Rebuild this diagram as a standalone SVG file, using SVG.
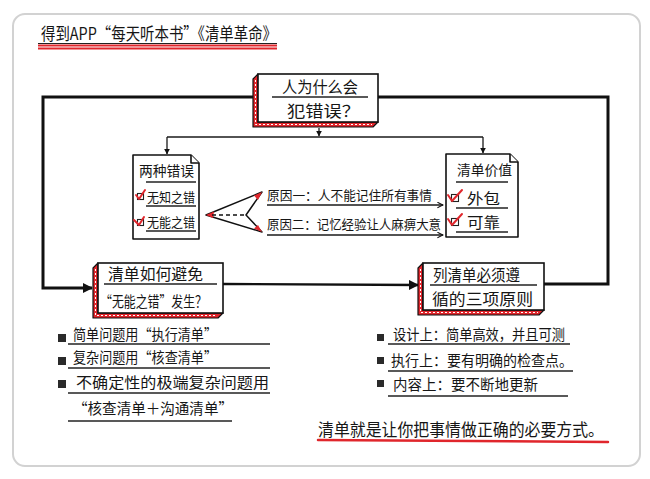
<svg xmlns="http://www.w3.org/2000/svg" width="650" height="479" viewBox="0 0 650 479">
<defs>
<style>
.t{font-family:"Noto Sans CJK SC","Noto Sans",sans-serif;fill:#161616;}
.ln{stroke:#1a1a1a;stroke-width:1.3;fill:none;}
.thick{stroke:#111;stroke-width:3;fill:none;}
.mid{stroke:#111;stroke-width:2.4;fill:none;}
.face{fill:#fff;stroke:#111;stroke-width:1.6;}
.side{fill:#e0262c;stroke:#111;stroke-width:1.2;stroke-linejoin:round;}
.hatch{stroke:#fff;stroke-width:1;stroke-dasharray:2 2;fill:none;}
.doc{fill:#fff;stroke:#111;stroke-width:1.6;stroke-linejoin:round;}
.ul{stroke:#222;stroke-width:1.4;fill:none;}
.box{fill:#fff;stroke:#222;stroke-width:1.1;}
.chk{stroke:#e0262c;stroke-width:2;fill:none;stroke-linecap:round;stroke-linejoin:round;}
.bul{fill:#2a2a2a;}
</style>
<marker id="ah" viewBox="0 0 10 10" refX="9" refY="5" markerWidth="6" markerHeight="6" orient="auto" markerUnits="userSpaceOnUse">
<path d="M0,0 L10,5 L0,10 Z" fill="#111"/>
</marker>
<marker id="ahb" viewBox="0 0 10 10" refX="9" refY="5" markerWidth="10" markerHeight="10" orient="auto" markerUnits="userSpaceOnUse">
<path d="M0,0 L10,5 L0,10 Z" fill="#111"/>
</marker>
<marker id="aho" viewBox="0 0 10 10" refX="9" refY="5" markerWidth="7" markerHeight="7" orient="auto" markerUnits="userSpaceOnUse">
<path d="M1,1 L9,5 L1,9" fill="none" stroke="#111" stroke-width="1.5"/>
</marker>
</defs>

<rect x="0" y="0" width="650" height="479" fill="#fff"/>
<rect x="13" y="14" width="627" height="452" rx="12" fill="#fff" stroke="#d2d2d2" stroke-width="2"/>

<g id="title">
<text class="t" x="41" y="40" font-size="17" textLength="236" lengthAdjust="spacingAndGlyphs">得到APP“每天听本书”《清单革命》</text>
<line x1="38" y1="43.5" x2="277" y2="43.5" stroke="#222" stroke-width="1"/>
<line x1="38" y1="45.5" x2="277" y2="45.5" stroke="#e0262c" stroke-width="2"/>
<line x1="38" y1="48.5" x2="277" y2="48.5" stroke="#e0262c" stroke-width="2"/>
</g>

<g id="connectors">
<polyline class="thick" points="253,97 43,97 43,288 92,288" marker-end="url(#ahb)"/>
<polyline class="thick" points="378,97 608,97 608,284 544,284"/>
<line class="mid" x1="223" y1="284" x2="418" y2="285" marker-end="url(#ahb)"/>
<line class="ln" x1="319" y1="128" x2="319" y2="136" marker-end="url(#ah)"/>
<line class="ln" x1="167" y1="137" x2="483" y2="137"/>
<line class="ln" x1="167" y1="137" x2="167" y2="154" marker-end="url(#ah)"/>
<line class="ln" x1="483" y1="137" x2="483" y2="153" marker-end="url(#ah)"/>
<polygon points="206,215 262,192 246,215 262,232" fill="#fff" stroke="#111" stroke-width="1.5" stroke-linejoin="round"/>
<polygon points="254,195.5 262,192 258,200" fill="#e0262c"/>
<polygon points="254,228.5 262,232 258,225" fill="#e0262c"/>
<polygon points="206,215 214,211.5 213,218" fill="#e0262c"/>
<line x1="212" y1="215" x2="245" y2="215" stroke="#111" stroke-width="1.3" stroke-dasharray="4 3"/>
<line class="ln" x1="267" y1="205" x2="443" y2="205" marker-end="url(#aho)"/>
<line class="ln" x1="267" y1="235" x2="443" y2="235" marker-end="url(#aho)"/>
<text class="t" x="267" y="200" font-size="13" textLength="165" lengthAdjust="spacingAndGlyphs">原因一：人不能记住所有事情</text>
<text class="t" x="267" y="229" font-size="13" textLength="174" lengthAdjust="spacingAndGlyphs">原因二：记忆经验让人麻痹大意</text>
</g>

<g id="node-top">
<polygon class="side" points="258,74 253,79 253,127 373,127 378,122 258,122"/>
<polyline class="hatch" points="255.5,80 255.5,124.5 372,124.5"/>
<rect class="face" x="258" y="74" width="120" height="48"/>
<text class="t" x="282" y="93" font-size="16" textLength="76" lengthAdjust="spacingAndGlyphs">人为什么会</text>
<line class="ul" x1="272" y1="97" x2="368" y2="97"/>
<text class="t" x="287" y="117" font-size="16" textLength="73" lengthAdjust="spacingAndGlyphs">犯错误？</text>
</g>

<g id="node-two-errors">
<path class="doc" d="M133,155 H191 L199,163 V239 H133 Z"/>
<path class="doc" d="M191,155 V163 H199" stroke-width="1"/>
<text class="t" x="139" y="176" font-size="14" textLength="55" lengthAdjust="spacingAndGlyphs">两种错误</text>
<line class="ul" x1="146" y1="182" x2="196" y2="182"/>
<rect class="box" x="137.5" y="193.5" width="6" height="6"/>
<polyline class="chk" points="136,195 139,199 145,190"/>
<text class="t" x="147" y="202" font-size="13" textLength="48" lengthAdjust="spacingAndGlyphs">无知之错</text>
<line class="ul" x1="146" y1="206" x2="196" y2="206"/>
<rect class="box" x="137.5" y="219.5" width="6" height="6"/>
<polyline class="chk" points="134,220 139,225 144,217"/>
<text class="t" x="147" y="227" font-size="13" textLength="48" lengthAdjust="spacingAndGlyphs">无能之错</text>
<line class="ul" x1="146" y1="231" x2="196" y2="231"/>
</g>

<g id="node-value">
<path class="doc" d="M446,154 H510 L518,162 V237 H446 Z"/>
<path class="doc" d="M510,154 V162 H518" stroke-width="1"/>
<text class="t" x="457" y="175" font-size="14" textLength="55" lengthAdjust="spacingAndGlyphs">清单价值</text>
<line class="ul" x1="456" y1="182" x2="508" y2="182"/>
<rect class="box" x="451.5" y="194.5" width="7" height="7"/>
<polyline class="chk" points="448,195 452,201 462,190"/>
<text class="t" x="467" y="204" font-size="15" textLength="33" lengthAdjust="spacingAndGlyphs">外包</text>
<line class="ul" x1="456" y1="208" x2="508" y2="208"/>
<rect class="box" x="451.5" y="218.5" width="7" height="7"/>
<polyline class="chk" points="448,219 452,225 462,214"/>
<text class="t" x="467" y="228" font-size="15" textLength="33" lengthAdjust="spacingAndGlyphs">可靠</text>
<line class="ul" x1="456" y1="232" x2="508" y2="232"/>
</g>

<g id="node-avoid">
<polygon class="side" points="98,263 93,268 93,318 218,318 223,313 98,313"/>
<polyline class="hatch" points="95.5,269 95.5,315.5 217,315.5"/>
<rect class="face" x="98" y="263" width="125" height="50"/>
<text class="t" x="108" y="280" font-size="16" textLength="95" lengthAdjust="spacingAndGlyphs">清单如何避免</text>
<line class="ul" x1="104" y1="284" x2="217" y2="284"/>
<text class="t" x="100" y="307" font-size="15" textLength="107" lengthAdjust="spacingAndGlyphs">“无能之错”发生？</text>
</g>

<g id="node-principles">
<polygon class="side" points="423,263 418,268 418,315 539,315 544,310 423,310"/>
<polyline class="hatch" points="420.5,269 420.5,312.5 538,312.5"/>
<rect class="face" x="423" y="263" width="121" height="47"/>
<text class="t" x="433" y="281" font-size="16" textLength="87" lengthAdjust="spacingAndGlyphs">列清单必须遵</text>
<line class="ul" x1="430" y1="285" x2="537" y2="285"/>
<text class="t" x="432" y="305" font-size="16" textLength="101" lengthAdjust="spacingAndGlyphs">循的三项原则</text>
</g>

<g id="list-left">
<rect class="bul" x="58" y="334" width="8" height="8"/>
<text class="t" x="73" y="340" font-size="15" textLength="144" lengthAdjust="spacingAndGlyphs">简单问题用“执行清单”</text>
<line class="ul" x1="68" y1="344" x2="270" y2="344"/>
<rect class="bul" x="58" y="357" width="8" height="8"/>
<text class="t" x="73" y="363" font-size="15" textLength="144" lengthAdjust="spacingAndGlyphs">复杂问题用“核查清单”</text>
<line class="ul" x1="68" y1="368" x2="270" y2="368"/>
<rect class="bul" x="58" y="380" width="8" height="8"/>
<text class="t" x="76" y="388" font-size="15" textLength="193" lengthAdjust="spacingAndGlyphs">不确定性的极端复杂问题用</text>
<line class="ul" x1="68" y1="393" x2="270" y2="393"/>
<text class="t" x="73" y="414" font-size="15" textLength="160" lengthAdjust="spacingAndGlyphs">“核查清单＋沟通清单”</text>
<line class="ul" x1="68" y1="421" x2="232" y2="421"/>
</g>

<g id="list-right">
<rect class="bul" x="377" y="334" width="7" height="7"/>
<text class="t" x="393" y="340" font-size="15" textLength="172" lengthAdjust="spacingAndGlyphs">设计上：简单高效，并且可测</text>
<line class="ul" x1="388" y1="344" x2="570" y2="344"/>
<rect class="bul" x="377" y="357" width="7" height="7"/>
<text class="t" x="391" y="366" font-size="15" textLength="182" lengthAdjust="spacingAndGlyphs">执行上：要有明确的检查点。</text>
<line class="ul" x1="388" y1="371" x2="573" y2="371"/>
<rect class="bul" x="377" y="380" width="7" height="7"/>
<text class="t" x="393" y="390" font-size="15" textLength="145" lengthAdjust="spacingAndGlyphs">内容上：要不断地更新</text>
<line class="ul" x1="388" y1="396" x2="568" y2="396"/>
</g>

<g id="conclusion">
<text class="t" x="318" y="436" font-size="17" textLength="286" lengthAdjust="spacingAndGlyphs">清单就是让你把事情做正确的必要方式。</text>
<line x1="318" y1="440" x2="608" y2="442" stroke="#e0262c" stroke-width="2.5" stroke-linecap="round"/>
</g>
</svg>
